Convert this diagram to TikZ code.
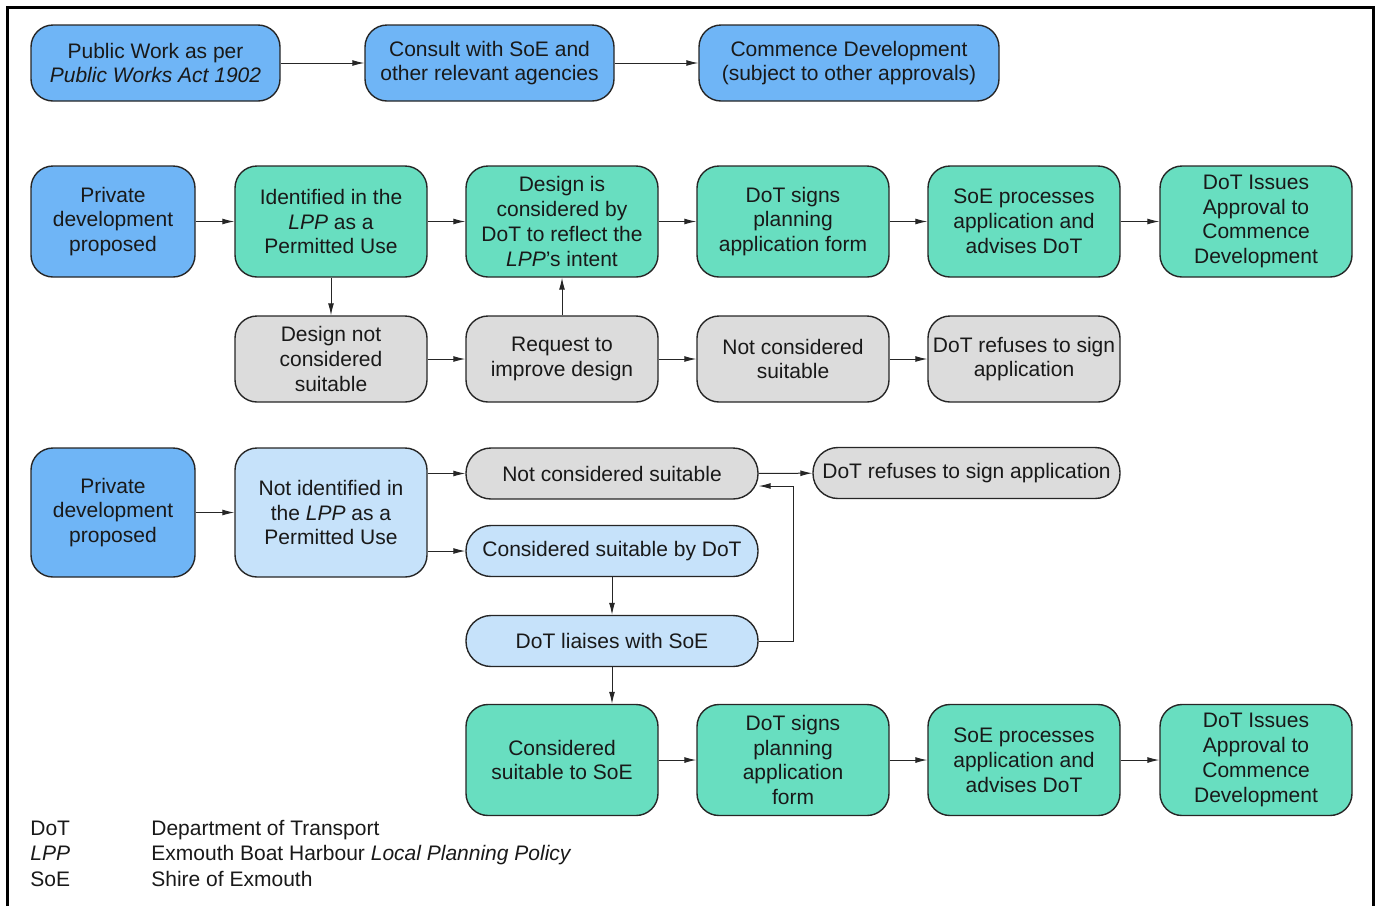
\documentclass[tikz,border=0pt]{standalone}
\usepackage{fontspec}
\setmainfont{Liberation Sans}
\usepackage{tikz}
\usetikzlibrary{arrows.meta,positioning,calc}

\definecolor{pubblue}{RGB}{111,181,246}
\definecolor{permgreen}{RGB}{104,222,192}
\definecolor{paleblue}{RGB}{198,226,250}
\definecolor{refgrey}{RGB}{220,220,220}

\begin{document}
\begin{tikzpicture}[
  x=0.5pt, y=-0.5pt,
  box/.style={draw=black!85, line width=0.7pt, rounded corners=11pt, align=center, inner sep=2pt, text=black!90, font=\fontsize{10.5}{12.4}\selectfont},
  wide/.style={box, minimum width=124.5pt, minimum height=38pt},
  tall/.style={box, minimum width=96pt, minimum height=55.5pt},
  mid/.style={box, minimum width=96pt, minimum height=43pt},
  pill/.style={box, rounded corners=12.5pt, minimum width=146pt, minimum height=25.5pt},
  arr/.style={line width=0.5pt, draw=black!85, -{Latex[length=6pt,width=3pt]}},
  key/.style={anchor=base west, inner sep=0pt, text=black!90, font=\fontsize{10.5}{12.4}\selectfont}
]
  \useasboundingbox (0,0) rectangle (1379,906);
  \draw[line width=1.5pt] (7,906) -- (7,7) -- (1373,7) -- (1373,906);

  % public works
  \node[wide, fill=pubblue] (pw) at (155.5,63) {Public Work as per\\ \textit{Public Works Act 1902}};
  \node[wide, fill=pubblue] (consult) at (489.5,63) {Consult with SoE and\\ other relevant agencies};
  \node[wide, fill=pubblue, minimum width=150pt] (commence) at (849,63) {Commence Development\\ (subject to other approvals)};
  \draw[arr] (pw) -- (consult);
  \draw[arr] (consult) -- (commence);

  % permitted use
  \node[tall, fill=pubblue, minimum width=82pt] (priv1) at (113,221.5) {Private\\ development\\ proposed};
  \node[tall, fill=permgreen] (ident) at (331,221.5) {Identified in the\\ \textit{LPP} as a\\ Permitted Use};
  \node[tall, fill=permgreen] (design) at (562,221.5) {Design is\\ considered by\\ DoT to reflect the\\ \textit{LPP}'s intent};
  \node[tall, fill=permgreen] (signs1) at (793,221.5) {DoT signs\\ planning\\ application form};
  \node[tall, fill=permgreen] (soep1) at (1024,221.5) {SoE processes\\ application and\\ advises DoT};
  \node[tall, fill=permgreen] (issues1) at (1256,221.5) {DoT Issues\\ Approval to\\ Commence\\ Development};
  \draw[arr] (priv1) -- (ident);
  \draw[arr] (ident) -- (design);
  \draw[arr] (design) -- (signs1);
  \draw[arr] (signs1) -- (soep1);
  \draw[arr] (soep1) -- (issues1);

  \node[mid, fill=refgrey] (dnot) at (331,359) {Design not\\ considered\\ suitable};
  \node[mid, fill=refgrey] (request) at (562,359) {Request to\\ improve design};
  \node[mid, fill=refgrey] (notcons) at (793,359) {Not considered\\ suitable};
  \node[mid, fill=refgrey] (refuses1) at (1024,359) {DoT refuses to sign\\ application};
  \draw[arr] (ident) -- (dnot);
  \draw[arr] (dnot) -- (request);
  \draw[arr] (request) -- (design);
  \draw[arr] (request) -- (notcons);
  \draw[arr] (notcons) -- (refuses1);

  % not permitted use
  \node[box, fill=pubblue, minimum width=82pt, minimum height=64.5pt] (priv2) at (113,512.5) {Private\\ development\\ proposed};
  \node[box, fill=paleblue, minimum width=96pt, minimum height=64.5pt] (notident) at (331,512.5) {Not identified in\\ the \textit{LPP} as a\\ Permitted Use};
  \node[pill, fill=refgrey] (notsuit) at (612,473.5) {Not considered suitable};
  \node[pill, fill=refgrey, minimum width=153.5pt] (refuses2) at (966.5,473) {DoT refuses to sign application};
  \node[pill, fill=paleblue] (suitdot) at (612,551) {Considered suitable by DoT};
  \node[pill, fill=paleblue] (liaises) at (612,641) {DoT liaises with SoE};
  \coordinate (loop) at (793,486);
  \draw[arr] (priv2) -- (notident);
  \draw[arr] (notident.east |- notsuit.west) -- (notsuit.west);
  \draw[arr] (notident.east |- suitdot.west) -- (suitdot.west);
  \draw[arr] (notsuit) -- (refuses2);
  \draw[arr] (suitdot) -- (liaises);
  \draw[arr] (liaises.east) -| (loop) -- (loop -| notsuit.east);

  \node[tall, fill=permgreen] (conssoe) at (562,760) {Considered\\ suitable to SoE};
  \node[tall, fill=permgreen] (signs2) at (793,760) {DoT signs\\ planning\\ application\\ form};
  \node[tall, fill=permgreen] (soep2) at (1024,760) {SoE processes\\ application and\\ advises DoT};
  \node[tall, fill=permgreen] (issues2) at (1256,760) {DoT Issues\\ Approval to\\ Commence\\ Development};
  \draw[arr] (liaises.south) -- (liaises.south |- conssoe.north);
  \draw[arr] (conssoe) -- (signs2);
  \draw[arr] (signs2) -- (soep2);
  \draw[arr] (soep2) -- (issues2);

  % abbreviations
  \node[key] (kdot) at (30,835) {DoT};
  \node[key] (klpp) at (30,860) {\textit{LPP}};
  \node[key] (ksoe) at (30,886) {SoE};
  \node[key] (ddot) at (151,835) {Department of Transport};
  \node[key] (dlpp) at (151,860) {Exmouth Boat Harbour \textit{Local Planning Policy}};
  \node[key] (dsoe) at (151,886) {Shire of Exmouth};
\end{tikzpicture}
\end{document}
